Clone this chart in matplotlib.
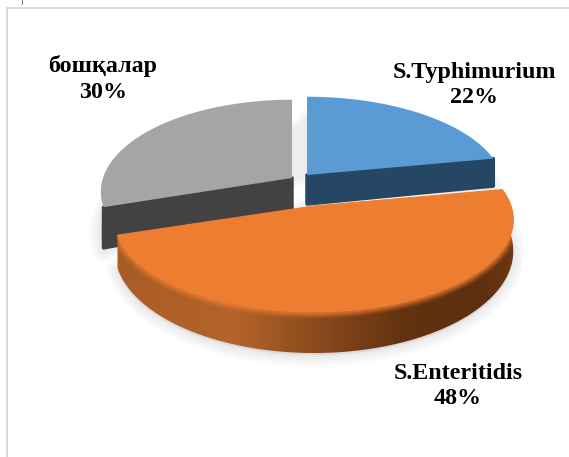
import numpy as np
import matplotlib
matplotlib.use('Agg')
import matplotlib.pyplot as plt
from matplotlib.colors import LinearSegmentedColormap
from matplotlib.patches import Polygon

labels = ['S.Typhimurium', 'S.Enteritidis', 'бошқалар']
shares = [22, 48, 30]
label_x = [474, 458, 103]
label_y = [85, 386, 79]

top_colors = ['#5B9BD5', '#ED7D31', '#A5A5A5']
side_colors = ['#264763', '#A85C25', '#424242']
centers = [(307, 175), (314, 206), (292, 178)]
widths = [195, 197, 189]
depths = [29, 29, 37]

B, K = 90, 0.15


def project(i, r, theta):
    s = 1 / (1 + K * r * np.cos(theta))
    cx, cy = centers[i]
    return cx + widths[i] * r * np.sin(theta) * s, cy - B * r * np.cos(theta) * s, s


def arc(i, t0, t1, n=120):
    return project(i, 1.0, np.linspace(t0, t1, n))


def soft_shadow(xy, ax, color='#808080', lws=(16, 12, 8, 4), alpha=0.04, z=1):
    for w in lws:
        ax.add_patch(Polygon(xy, closed=True, facecolor=color, edgecolor=color, lw=w,
                             alpha=alpha, joinstyle='round', zorder=z))


fig = plt.figure(figsize=(5.69, 4.57), dpi=100, facecolor='white')
ax = fig.add_axes([0, 0, 1, 1])
ax.set_xlim(0, 569)
ax.set_ylim(457, 0)
ax.axis('off')

# рамка
ax.plot([7, 7, 569], [457, 8, 8], color='#d9d9d9', lw=1.4, zorder=0)
ax.text(22, 2, ')', fontsize=5, family='Liberation Serif', ha='center', va='center')

edges = np.deg2rad(np.r_[0, np.cumsum(shares)] * 3.6)

# тени
for i in [0, 2, 1]:
    x, y, s = arc(i, edges[i], edges[i + 1])
    pts = np.r_[[centers[i]], np.c_[x, y + depths[i] * s ** 2 + 3]]
    soft_shadow(pts, ax)

# боковые стенки серого и синего секторов (видимые плоские срезы)
for i in [2, 0]:
    t = edges[i] if i == 2 else edges[i + 1]
    x, y, s = project(i, 1.0, t)
    cx, cy = centers[i]
    d = depths[i] * s ** 2
    ax.add_patch(Polygon([(cx, cy), (x, y), (x, y + d), (cx, cy + depths[i])], closed=True,
                         facecolor=side_colors[i], edgecolor=side_colors[i], lw=2.5,
                         joinstyle='round', zorder=2))

# верх серого и синего
for i in [2, 0]:
    x, y, s = arc(i, edges[i], edges[i + 1])
    ax.add_patch(Polygon(np.r_[[centers[i]], np.c_[x, y]], closed=True, facecolor=top_colors[i],
                         edgecolor='none', zorder=3))

# оранжевый сектор: стенка с градиентом
x, y, s = arc(1, edges[1], edges[2])
side = np.r_[np.c_[x, y], np.c_[x, y + depths[1] * s ** 2 + 1][::-1]]
side_cmap = LinearSegmentedColormap.from_list('side', [
    (0.00, '#A85C25'), (0.30, '#B5642A'), (0.50, '#8A4A1C'),
    (0.72, '#63320F'), (0.92, '#5E2F10'), (1.00, '#6E3812')])
clip = Polygon(side, closed=True, transform=ax.transData, facecolor='none', edgecolor='none')
ax.add_patch(clip)
im = ax.imshow(np.linspace(0, 1, 256)[None, :], cmap=side_cmap, aspect='auto', zorder=4,
               extent=(115, 515, 360, 180))
im.set_clip_path(clip)
ax.set_xlim(0, 569)
ax.set_ylim(457, 0)

# оранжевый верх и мягкая фаска
for w, a in [(8, 0.15), (6, 0.2), (4, 0.3), (2, 0.4)]:
    rim, = ax.plot(x, y + 1, color='#ED7D31', lw=w, alpha=a, zorder=5, solid_capstyle='butt')
    rim.set_clip_path(clip)
ax.add_patch(Polygon(np.r_[[centers[1]], np.c_[x, y]], closed=True, facecolor=top_colors[1],
                     edgecolor=top_colors[1], lw=0.8, joinstyle='round', zorder=6))

# подписи
for name, share, lx, ly in zip(labels, shares, label_x, label_y):
    ax.text(lx, ly, f'{name}\n{share}%', ha='center', va='center', fontsize=17.3,
            fontweight='bold', family='Liberation Serif', color='black', linespacing=1.27, zorder=8)

fig.savefig('out.png', dpi=100)
